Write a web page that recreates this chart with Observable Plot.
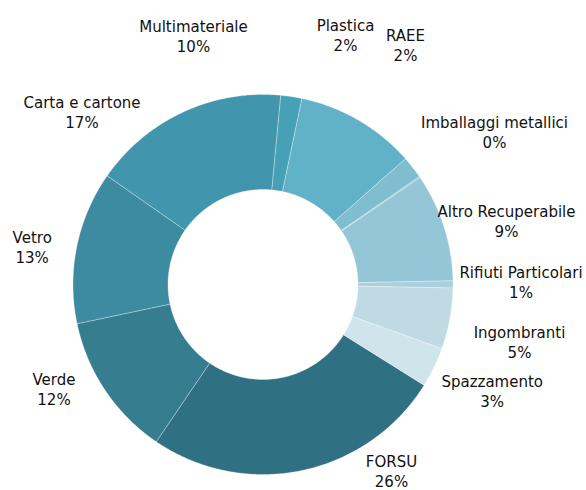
<!DOCTYPE html>
<html>
<head>
<meta charset="utf-8">
<script src="https://cdn.jsdelivr.net/npm/d3@7"></script>
<script src="https://cdn.jsdelivr.net/npm/@observablehq/plot@0.6"></script>
<style>
  html, body { margin: 0; padding: 0; background: #fff; }
  #chart { width: 586px; height: 490px; }
</style>
</head>
<body>
<div id="chart"></div>
<script>
// ---- Data (clockwise order, starting with FORSU) ----
const categories = ["FORSU", "Verde", "Vetro", "Carta e cartone", "Plastica", "Multimateriale", "RAEE", "Imballaggi metallici", "Altro Recuperabile", "Rifiuti Particolari", "Ingombranti", "Spazzamento"];
const shares = [25.6, 12.2, 13.0, 16.8, 1.8, 10.2, 1.9, 0.1, 9.2, 0.6, 5.2, 3.4];

// ---- Styles ----
const sliceColors = ["#2f7082", "#377d90", "#3d8ba0", "#4195ad", "#46a1b7", "#61b1c9", "#80bdcf", "#8cc2d3", "#95c6d7", "#a8d0dd", "#c0dae4", "#d0e4eb"];

// ---- Layout ----
const W = 586, H = 490;
const cx = 262.5, cy = 284, rOuter = 190, rInner = 95;
const startDeg = 122;
// label anchor (centre of the two-line block), manually placed as in the reference
const labelX = [391, 53.5, 31.7, 81.5, 345, 193, 405, 494, 506, 520.5, 519, 491.7];
const labelY = [470, 388.5, 246.5, 111.5, 34, 35.5, 44, 131, 220.5, 281, 341.5, 390];

const pie = d3.pie().sort(null).value(d => d)
  .startAngle(startDeg * Math.PI / 180)
  .endAngle(startDeg * Math.PI / 180 + 2 * Math.PI);
const arcs = pie(shares);

// polygon points for each slice
const pts = [];
arcs.forEach((a, i) => {
  const n = Math.max(2, Math.ceil((a.endAngle - a.startAngle) / (Math.PI / 360)));
  for (let k = 0; k <= n; k++) {
    const t = a.startAngle + (a.endAngle - a.startAngle) * k / n;
    pts.push({name: categories[i], x: cx + rOuter * Math.sin(t), y: cy - rOuter * Math.cos(t)});
  }
  for (let k = n; k >= 0; k--) {
    const t = a.startAngle + (a.endAngle - a.startAngle) * k / n;
    pts.push({name: categories[i], x: cx + rInner * Math.sin(t), y: cy - rInner * Math.cos(t)});
  }
  const t0 = a.startAngle;
  pts.push({name: categories[i], x: cx + rOuter * Math.sin(t0), y: cy - rOuter * Math.cos(t0)});
});

const labels = categories.map((c, i) => ({
  text: c + "\n" + Math.round(shares[i]) + "%",
  x: labelX[i], y: labelY[i]
}));

const plot = Plot.plot({
  width: W, height: H,
  margin: 0,
  x: {domain: [0, W], range: [0, W], axis: null},
  y: {domain: [0, H], range: [0, H], axis: null},
  color: {domain: categories, range: sliceColors},
  style: {fontFamily: "DejaVu Sans", background: "#fff"},
  marks: [
    Plot.line(pts, {x: "x", y: "y", z: "name", fill: "name", stroke: "#ffffff", strokeWidth: 0.6, strokeOpacity: 0.5, curve: "linear"}),
    Plot.text(labels, {x: "x", y: "y", text: "text", fontSize: 15, lineHeight: 1.333, fill: "#111", textAnchor: "middle", fontFamily: "DejaVu Sans"})
  ]
});
document.getElementById("chart").appendChild(plot);
</script>
</body>
</html>
